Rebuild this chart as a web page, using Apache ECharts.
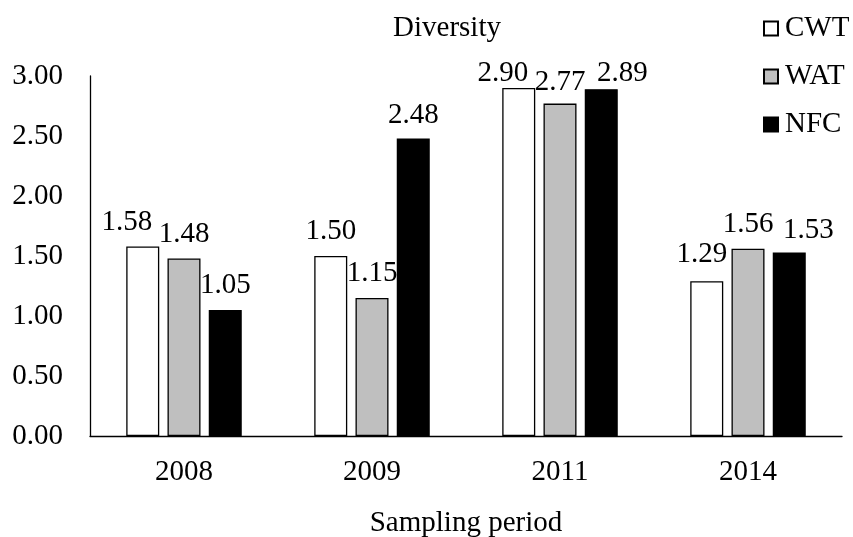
<!DOCTYPE html>
<html>
<head>
<meta charset="utf-8">
<script src="https://cdn.jsdelivr.net/npm/echarts@6/dist/echarts.min.js"></script>
<style>html,body{margin:0;padding:0;background:#fff;}#c{width:853px;height:537px;}</style>
</head>
<body>
<div id="c"></div>
<script>
const categories = ['2008', '2009', '2011', '2014'];
const seriesNames = ['CWT', 'WAT', 'NFC'];
const cwt = [1.58, 1.50, 2.90, 1.29];
const wat = [1.48, 1.15, 2.77, 1.56];
const nfc = [1.05, 2.48, 2.89, 1.53];
const yTicks = [0, 0.5, 1, 1.5, 2, 2.5, 3];

const font = 'Liberation Serif';
const FS = 29;
const chart = echarts.init(document.getElementById('c'));
const colors = ['#ffffff', '#bfbfbf', '#000000'];
const datas = [cwt, wat, nfc];
// label placement tweaks (style only), per series per category
const labelShift = [
  [[-16, 0], [0, 0], [-16, 10], [-5, -2]],
  [[0, 0], [0, 0], [0, 3], [0, 0]],
  [[0, 0], [0, 1], [21, 9], [19, 2]]
];
chart.setOption({
  animation: false,
  title: {
    text: 'Diversity', left: 442, top: 9, textAlign: 'center',
    textStyle: {fontFamily: font, fontSize: FS, fontWeight: 'normal', color: '#000'}
  },
  legend: {
    orient: 'vertical', left: 758, top: 9, itemGap: 19,
    itemWidth: 14, itemHeight: 14, icon: 'rect',
    textStyle: {fontFamily: font, fontSize: FS, color: '#000', padding: [0, 0, 0, 2]},
    data: seriesNames
  },
  grid: {left: 90, right: 11, top: 76, bottom: 101, containLabel: false, outerBoundsMode: 'none'},
  xAxis: {
    type: 'category', data: categories,
    axisLine: {lineStyle: {color: '#000', width: 1.3}},
    axisTick: {show: false},
    axisLabel: {fontFamily: font, fontSize: FS, color: '#000', margin: 22},
    name: 'Sampling period', nameLocation: 'middle', nameGap: 73,
    nameTextStyle: {fontFamily: font, fontSize: FS, color: '#000'}
  },
  yAxis: {
    type: 'value', min: yTicks[0], max: yTicks[yTicks.length - 1], interval: 0.5,
    axisLine: {show: true, lineStyle: {color: '#000', width: 1.3}},
    axisTick: {show: false},
    splitLine: {show: false},
    axisLabel: {fontFamily: font, fontSize: FS, color: '#000', margin: 27,
      formatter: v => v.toFixed(2)}
  },
  series: seriesNames.map((n, i) => ({
    name: n, type: 'bar',
    data: datas[i].map((v, j) => ({value: v, label: {offset: labelShift[i][j]}})),
    barWidth: 33, barGap: '25%',
    itemStyle: {color: colors[i], borderColor: '#000', borderWidth: 1.3},
    label: {show: true, position: 'top', distance: 10,
      fontFamily: font, fontSize: FS, color: '#000',
      formatter: p => p.value.toFixed(2)}
  }))
});
</script>
</body>
</html>
